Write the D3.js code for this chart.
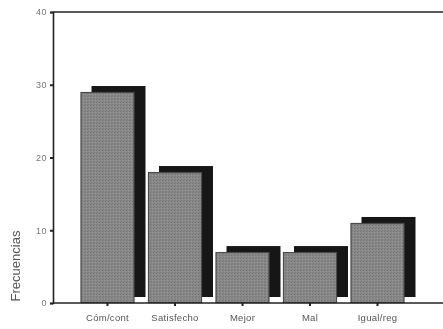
<!DOCTYPE html>
<html>
<head>
<meta charset="utf-8">
<script src="https://cdn.jsdelivr.net/npm/d3@7"></script>
<style>
  html, body { margin: 0; padding: 0; background: #fff; }
  svg { display: block; filter: grayscale(1); }
</style>
</head>
<body>
<svg id="chart" width="443" height="329"></svg>
<script>
// Frequencies per response category
const categories = ["Cóm/cont", "Satisfecho", "Mejor", "Mal", "Igual/reg"];
const frequencies = [29, 18, 7, 7, 11];
const yTicks = [0, 10, 20, 30, 40];
const yTitle = "Frecuencias";

const W = 443, H = 329;
const plot = { left: 53, right: 443, top: 12, bottom: 303 };
const font = "Liberation Sans, Arial, sans-serif";

const svg = d3.select("#chart");

// Halftone texture for the front face of the bars
const defs = svg.append("defs");
const pat = defs.append("pattern")
  .attr("id", "grain").attr("width", 3).attr("height", 3)
  .attr("patternUnits", "userSpaceOnUse");
pat.append("rect").attr("width", 3).attr("height", 3).attr("fill", "#888");
pat.append("rect").attr("x", 0).attr("y", 0).attr("width", 1).attr("height", 1).attr("fill", "#737373");
pat.append("rect").attr("x", 2).attr("y", 1).attr("width", 1).attr("height", 1).attr("fill", "#979797");
pat.append("rect").attr("x", 1).attr("y", 2).attr("width", 1).attr("height", 1).attr("fill", "#7a7a7a");

const x = d3.scaleBand()
  .domain(categories)
  .range([80.5, 404.5])
  .paddingInner(0.2)
  .paddingOuter(0);

const y = d3.scaleLinear()
  .domain([0, 40])
  .range([plot.bottom, plot.top]);

const data = categories.map((c, i) => ({ cat: c, value: frequencies[i] }));

// Shadow (depth) offset
const dx = 11, dy = -6;

// Back shadow bars
svg.append("g").selectAll("rect")
  .data(data).join("rect")
  .attr("x", d => x(d.cat) + dx)
  .attr("y", d => y(d.value) + dy)
  .attr("width", x.bandwidth())
  .attr("height", d => y(0) - y(d.value))
  .attr("fill", "#161616");

// Front bars
svg.append("g").selectAll("rect")
  .data(data).join("rect")
  .attr("x", d => x(d.cat) + 0.5)
  .attr("y", d => y(d.value) + 0.5)
  .attr("width", x.bandwidth() - 1)
  .attr("height", d => y(0) - y(d.value) - 1)
  .attr("fill", "url(#grain)")
  .attr("stroke", "#4a4a4a")
  .attr("stroke-width", 1.2);

// Frame lines: top border and baseline
svg.append("line")
  .attr("x1", plot.left).attr("x2", plot.right)
  .attr("y1", plot.top).attr("y2", plot.top)
  .attr("stroke", "#222").attr("stroke-width", 1.6);
svg.append("line")
  .attr("x1", plot.left).attr("x2", plot.right)
  .attr("y1", plot.bottom).attr("y2", plot.bottom)
  .attr("stroke", "#222").attr("stroke-width", 1.4);

// Y axis
const yAxis = svg.append("g")
  .attr("transform", `translate(${plot.left},0)`)
  .call(d3.axisLeft(y).tickValues(yTicks).tickSize(3).tickPadding(3));
yAxis.select(".domain").attr("stroke", "#222").attr("stroke-width", 1.6);
yAxis.selectAll(".tick line").attr("stroke", "#222").attr("stroke-width", 2);
yAxis.selectAll(".tick text")
  .attr("font-family", font)
  .attr("font-size", 9)
  .attr("letter-spacing", 0.5)
  .attr("fill", "#777");

// X axis
const xAxis = svg.append("g")
  .attr("transform", `translate(0,${plot.bottom})`)
  .call(d3.axisBottom(x).tickSize(3).tickPadding(8));
xAxis.select(".domain").remove();
xAxis.selectAll(".tick line").attr("stroke", "#222").attr("stroke-width", 2);
xAxis.selectAll(".tick text")
  .attr("font-family", font)
  .attr("font-size", 9.5)
  .attr("letter-spacing", 0.3)
  .attr("fill", "#555");

// Y axis title
svg.append("text")
  .attr("transform", `translate(15,266) rotate(-90)`)
  .attr("text-anchor", "middle")
  .attr("dominant-baseline", "central")
  .attr("font-family", font)
  .attr("font-size", 13)
  .attr("fill", "#555")
  .text(yTitle);
</script>
</body>
</html>
